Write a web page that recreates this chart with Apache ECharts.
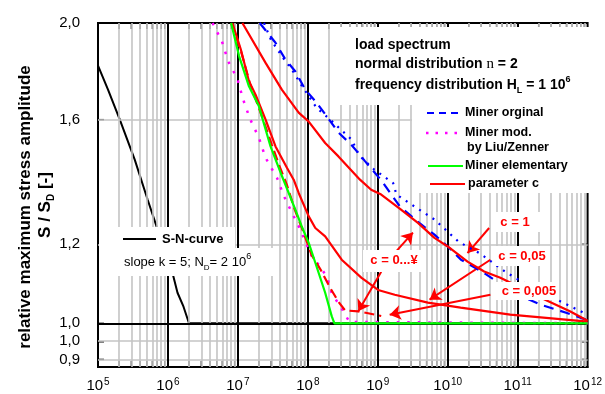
<!DOCTYPE html>
<html><head><meta charset="utf-8">
<script src="https://cdn.jsdelivr.net/npm/echarts@6/dist/echarts.min.js"></script>
<style>html,body{margin:0;padding:0;background:#fff}#c{width:605px;height:394px}</style>
</head><body><div id="c"></div>
<script>
const FONT = '"Liberation Sans", Arial, Helvetica, sans-serif';

// ---- data (N = cycles, S = S/S_D) ----
const snN = [1.0e5, 1.39e5, 2.05e5, 3.35e5, 5.13e5, 6.89e5, 1.16e6, 1.37e6, 1.67e6, 2.0e6, 1.0e12];
const snS = [1.813, 1.715, 1.600, 1.459, 1.330, 1.250, 1.124, 1.073, 1.039, 1.000, 1.000];

const minerOrgN = [2.05e7, 3.45e7, 4.79e7, 6.64e7, 9.2e7, 1.28e8, 1.97e8, 2.74e8, 4.19e8, 6.56e8, 1.12e9, 2.06e9, 3.96e9, 6.47e9, 1.0e10, 1.55e10, 3.32e10, 8.38e10, 2.11e11, 5.07e11, 1.0e12];
const minerOrgS = [2.000, 1.911, 1.838, 1.788, 1.715, 1.670, 1.604, 1.553, 1.510, 1.454, 1.391, 1.310, 1.260, 1.227, 1.194, 1.158, 1.123, 1.075, 1.044, 1.024, 1.007];

const minerOrgDotN = [2.36e7, 2.96e7, 4.38e7, 5.89e7, 8.17e7, 1.33e8, 2.09e8, 4.23e8, 5.44e8, 8.9e8, 1.66e9, 1.85e9, 3.37e9, 6.53e9, 1.43e10, 2.94e10, 6.67e10, 1.61e11, 4.06e11, 1.0e12];
const minerOrgDotS = [2.000, 1.925, 1.847, 1.797, 1.731, 1.645, 1.600, 1.528, 1.473, 1.426, 1.382, 1.346, 1.309, 1.270, 1.207, 1.174, 1.126, 1.085, 1.052, 1.020];

const minerModN = [4.34e6, 5.9e6, 7.26e6, 9.84e6, 1.19e7, 1.49e7, 2.0e7, 2.49e7, 3.64e7, 4.53e7, 5.64e7, 7.4e7, 1.14e8, 1.42e8, 1.87e8, 2.2e8, 3.22e8, 3.93e8, 1.0e12];
const minerModS = [2.000, 1.918, 1.831, 1.758, 1.676, 1.603, 1.534, 1.465, 1.398, 1.342, 1.300, 1.251, 1.167, 1.145, 1.114, 1.072, 1.028, 1.003, 1.000];

const minerElemN = [8.0e6, 1.04e7, 1.44e7, 2.0e7, 2.93e7, 4.28e7, 6.63e7, 8.16e7, 1.03e8, 1.28e8, 1.77e8, 2.2e8, 2.4e8, 1.0e12];
const minerElemS = [2.000, 1.853, 1.728, 1.650, 1.504, 1.404, 1.300, 1.251, 1.204, 1.150, 1.073, 1.016, 1.000, 1.000];

const paramCUpperN = [1.16e7, 2.49e7, 4.25e7, 7.4e7, 1.03e8, 1.77e8, 2.74e8, 5.57e8, 8.05e8, 1.12e9, 2.15e9, 3.75e9, 6.47e9, 1.0e10, 1.92e10, 3.32e10, 5.66e10, 2.47e11, 5.58e11, 1.0e12];
const paramCUpperS = [2.000, 1.824, 1.715, 1.626, 1.593, 1.516, 1.470, 1.393, 1.361, 1.346, 1.300, 1.261, 1.218, 1.194, 1.153, 1.127, 1.111, 1.056, 1.028, 1.006];

const paramCMidN = [8.35e6, 1.10e7, 1.44e7, 1.79e7, 2.49e7, 3.45e7, 5.05e7, 6.28e7, 7.4e7, 1.03e8, 1.28e8, 1.77e8, 3.05e8, 5.81e8, 1.01e9, 1.75e9, 5.2e9, 1.53e10, 7.85e10, 1.0e12];
const paramCMidS = [2.000, 1.882, 1.748, 1.695, 1.600, 1.504, 1.431, 1.393, 1.351, 1.280, 1.246, 1.222, 1.158, 1.111, 1.080, 1.068, 1.049, 1.037, 1.020, 1.004];

const paramCLowN = [8.0e6, 1.11e7, 1.49e7, 1.94e7, 2.43e7, 3.06e7, 3.85e7, 5.0e7, 6.5e7, 8.4e7, 1.13e8, 1.52e8, 2.09e8, 2.74e8, 3.41e8, 5.27e8, 1.12e9];
const paramCLowS = [2.000, 1.873, 1.739, 1.653, 1.582, 1.510, 1.443, 1.377, 1.300, 1.241, 1.171, 1.132, 1.085, 1.051, 1.030, 1.028, 1.017];

// annotation arrows (data coordinates)
const arrowTailN = [1.82e9, 1.12e9, 3.91e10, 4.08e10, 4.08e10];
const arrowTailS = [1.180, 1.126, 1.246, 1.158, 1.068];
const arrowHeadN = [3.18e9, 5.27e8, 1.92e10, 5.5e9, 1.48e9];
const arrowHeadS = [1.233, 1.028, 1.176, 1.056, 1.020];

// axes / ticks
const xMin = 1e5, xMax = 1e12;
const yMin = 0.904, yMax = 2.0;
const xDecades = [1e5, 1e6, 1e7, 1e8, 1e9, 1e10, 1e11];
const xInnerDecades = [1e6, 1e7, 1e8, 1e9, 1e10, 1e11];
const minorMultipliers = [2, 3, 4, 5, 6, 7, 8, 9];
const yTickValues = [2.0, 1.6, 1.2, 1.0, 0.958, 0.92];
const yTickLabels = ['2,0', '1,6', '1,2', '1,0', '1,0', '0,9'];
const yGridGray = [1.6, 1.2, 0.958, 0.92];
const yGridBlack = [1.0];

const pairs = (n, s) => n.map((v, i) => [v, s[i]]);
const xMinor = [];
xDecades.forEach(d => minorMultipliers.forEach(m => xMinor.push(m * d)));
const xAllTicks = xMinor.concat(xInnerDecades);

const chart = echarts.init(document.getElementById('c'));

const gridMarkData = []
  .concat(xMinor.map(v => ({ xAxis: v, lineStyle: { color: '#c4c4c4', width: 1.6, type: 'solid' } })))
  .concat(yGridGray.map(v => ({ yAxis: v, lineStyle: { color: '#c4c4c4', width: 1.6, type: 'solid' } })))
  .concat(xInnerDecades.map(v => ({ xAxis: v, lineStyle: { color: '#000', width: 2, type: 'solid' } })))
  .concat(yGridBlack.map(v => ({ yAxis: v, lineStyle: { color: '#000', width: 2, type: 'solid' } })));

const lineBase = { type: 'line', symbol: 'none', showSymbol: false, animation: false, silent: true, clip: true };

const option = {
  animation: false,
  backgroundColor: '#fff',
  grid: { left: 98, right: 14, top: 23, bottom: 27, show: true, borderColor: '#000', borderWidth: 2, backgroundColor: '#fff' },
  xAxis: {
    type: 'log', logBase: 10, min: xMin, max: xMax,
    axisLine: { show: true, lineStyle: { color: '#000', width: 2 } },
    axisTick: { show: false }, splitLine: { show: false }, minorTick: { show: false }, minorSplitLine: { show: false },
    axisLabel: {
      margin: 10, showMinLabel: true, showMaxLabel: true,
      formatter: v => '{b|10}{s|' + Math.round(Math.log10(v)) + '}',
      rich: {
        b: { fontSize: 15, fontFamily: FONT, color: '#000', lineHeight: 18 },
        s: { fontSize: 10, fontFamily: FONT, color: '#000', verticalAlign: 'top', lineHeight: 18, padding: [0, 0, 0, 1] }
      }
    }
  },
  yAxis: {
    type: 'log', logBase: 10, min: yMin, max: yMax,
    axisLine: { show: true, lineStyle: { color: '#000', width: 2 } },
    axisTick: { show: false }, axisLabel: { show: false }, splitLine: { show: false }
  },
  series: [
    Object.assign({}, lineBase, {
      name: 'grid', data: [[xMin, 1]], z: 1, lineStyle: { opacity: 0 },
      markLine: { silent: true, animation: false, symbol: ['none', 'none'], label: { show: false }, data: gridMarkData }
    }),
    Object.assign({}, lineBase, {
      name: 'ylabels', data: [[xMin, 1]], z: 1, lineStyle: { opacity: 0 },
      markLine: {
        silent: true, animation: false, symbol: ['none', 'none'],
        lineStyle: { color: 'rgba(0,0,0,0)', width: 0 },
        label: { show: true, position: 'start', distance: 18, color: '#000', fontSize: 15, fontFamily: FONT },
        data: yTickValues.map((v, i) => ({ yAxis: v, label: { formatter: yTickLabels[i] } }))
      }
    }),
    {
      type: 'scatter', name: 'ticks', silent: true, animation: false, clip: false, z: 3,
      symbol: 'rect', itemStyle: { color: '#000' },
      data: []
        .concat(xAllTicks.map(v => ({ value: [v, yMax], symbolSize: [1.5, 6], symbolOffset: [0, 3] })))
        .concat(xAllTicks.map(v => ({ value: [v, yMin], symbolSize: [1.5, 6], symbolOffset: [0, -3] })))
        .concat(yTickValues.slice(1).map(v => ({ value: [xMax, v], symbolSize: [6, 1.5], symbolOffset: [-3, 0] })))
        .concat(yTickValues.slice(1).map(v => ({ value: [xMin, v], symbolSize: [6, 1.5], symbolOffset: [3, 0] })))
    },
    Object.assign({}, lineBase, { name: 'S-N-curve', z: 4, data: pairs(snN, snS), lineStyle: { color: '#000', width: 2 } }),
    Object.assign({}, lineBase, { name: 'Miner orginal', z: 5, data: pairs(minerOrgDotN, minerOrgDotS), lineStyle: { color: '#0000ff', width: 2.2, type: [2, 6] } }),
    Object.assign({}, lineBase, { name: 'Miner orginal', z: 5, data: pairs(minerOrgN, minerOrgS), lineStyle: { color: '#0000ff', width: 2.2, type: [10, 7] } }),
    Object.assign({}, lineBase, { name: 'Miner mod. by Liu/Zenner', z: 5, data: pairs(minerModN, minerModS), lineStyle: { color: '#ff00ff', width: 2.5, type: [2.5, 8] } }),
    Object.assign({}, lineBase, { name: 'parameter c', z: 6, data: pairs(paramCLowN, paramCLowS), lineStyle: { color: '#ff0000', width: 2.2, type: [10, 5] } }),
    Object.assign({}, lineBase, { name: 'Miner elementary', z: 7, data: pairs(minerElemN, minerElemS), lineStyle: { color: '#00ff00', width: 2.2 } }),
    Object.assign({}, lineBase, { name: 'parameter c', z: 6, data: pairs(paramCMidN, paramCMidS), lineStyle: { color: '#ff0000', width: 2.2 } }),
    Object.assign({}, lineBase, {
      name: 'parameter c', z: 6, data: pairs(paramCUpperN, paramCUpperS), itemStyle: { color: '#ff0000' }, lineStyle: { color: '#ff0000', width: 2.2 },
      markLine: {
        silent: true, animation: false, symbol: ['none', 'arrow'], symbolSize: 11,
        label: { show: false },
        itemStyle: { color: '#ff0000' },
        lineStyle: { color: '#ff0000', width: 2, type: 'solid', opacity: 1 },
        data: arrowTailN.map((n, i) => [{ coord: [n, arrowTailS[i]] }, { coord: [arrowHeadN[i], arrowHeadS[i]] }])
      }
    })
  ],
  graphic: { elements: [
    // y-axis title
    { type: 'text', x: 25, y: 207, rotation: Math.PI / 2, z: 20,
      style: { text: 'relative maximum stress amplitude', font: 'bold 17px ' + FONT, fill: '#000', align: 'center', verticalAlign: 'middle' } },
    { type: 'text', x: 45, y: 205, rotation: Math.PI / 2, z: 20,
      style: { text: '{b|S / S}{sub|D}{b| [-]}', align: 'center', verticalAlign: 'middle',
        rich: { b: { font: 'bold 17px ' + FONT, fill: '#000', lineHeight: 22 }, sub: { font: 'bold 10px ' + FONT, fill: '#000', verticalAlign: 'bottom', lineHeight: 20 } } } },

    // top text box
    { type: 'rect', z: 10, shape: { x: 333, y: 27, width: 257, height: 78 }, style: { fill: '#fff' } },
    { type: 'text', z: 11, x: 355, y: 45, style: { text: 'load spectrum', font: 'bold 14px ' + FONT, fill: '#000', verticalAlign: 'middle' } },
    { type: 'text', z: 11, x: 355, y: 64, style: { text: '{b|normal distribution }{n|n}{b| = 2}', verticalAlign: 'middle',
        rich: { b: { font: 'bold 14px ' + FONT, fill: '#000' }, n: { font: '15px "Liberation Serif", "Times New Roman", serif', fill: '#000' } } } },
    { type: 'text', z: 11, x: 355, y: 85, style: { text: '{b|frequency distribution H}{sub|L}{b| = 1 10}{sup|6}', verticalAlign: 'middle',
        rich: { b: { font: 'bold 14px ' + FONT, fill: '#000', lineHeight: 20 }, sub: { font: 'bold 9px ' + FONT, fill: '#000', verticalAlign: 'bottom', lineHeight: 20 }, sup: { font: 'bold 9px ' + FONT, fill: '#000', verticalAlign: 'top', lineHeight: 20 } } } },

    // legend box
    { type: 'rect', z: 10, shape: { x: 412, y: 104, width: 178, height: 89 }, style: { fill: '#fff' } },
    { type: 'line', z: 11, shape: { x1: 427, y1: 113, x2: 463, y2: 113 }, style: { stroke: '#0000ff', lineWidth: 2.2, lineDash: [7, 5] } },
    { type: 'text', z: 11, x: 465, y: 113, style: { text: 'Miner orginal', font: 'bold 12.5px ' + FONT, fill: '#000', verticalAlign: 'middle' } },
    { type: 'line', z: 11, shape: { x1: 426, y1: 133, x2: 458, y2: 133 }, style: { stroke: '#ff00ff', lineWidth: 2.5, lineDash: [2.5, 7] } },
    { type: 'text', z: 11, x: 465, y: 133, style: { text: 'Miner mod.', font: 'bold 12.5px ' + FONT, fill: '#000', verticalAlign: 'middle' } },
    { type: 'text', z: 11, x: 467, y: 148, style: { text: 'by Liu/Zenner', font: 'bold 12.5px ' + FONT, fill: '#000', verticalAlign: 'middle' } },
    { type: 'line', z: 11, shape: { x1: 428, y1: 166, x2: 463, y2: 166 }, style: { stroke: '#00ff00', lineWidth: 2.2 } },
    { type: 'text', z: 11, x: 465, y: 166, style: { text: 'Miner elementary', font: 'bold 12.5px ' + FONT, fill: '#000', verticalAlign: 'middle' } },
    { type: 'line', z: 11, shape: { x1: 430, y1: 184, x2: 465, y2: 184 }, style: { stroke: '#ff0000', lineWidth: 2.2 } },
    { type: 'text', z: 11, x: 468, y: 184, style: { text: 'parameter c', font: 'bold 12.5px ' + FONT, fill: '#000', verticalAlign: 'middle' } },

    // S-N legend box
    { type: 'rect', z: 10, shape: { x: 99, y: 227, width: 136, height: 21 }, style: { fill: '#fff' } },
    { type: 'rect', z: 10, shape: { x: 99, y: 248, width: 178, height: 28 }, style: { fill: '#fff' } },
    { type: 'line', z: 11, shape: { x1: 123, y1: 239, x2: 156, y2: 239 }, style: { stroke: '#000', lineWidth: 2 } },
    { type: 'text', z: 11, x: 162, y: 239, style: { text: 'S-N-curve', font: 'bold 13px ' + FONT, fill: '#000', verticalAlign: 'middle' } },
    { type: 'text', z: 11, x: 124, y: 262, style: { text: '{b|slope k = 5; N}{sub|D}{b|= 2 10}{sup|6}', verticalAlign: 'middle',
        rich: { b: { font: '13px ' + FONT, fill: '#000', lineHeight: 20 }, sub: { font: '8px ' + FONT, fill: '#000', verticalAlign: 'bottom', lineHeight: 20 }, sup: { font: '9px ' + FONT, fill: '#000', verticalAlign: 'top', lineHeight: 20 } } } },

    // annotation boxes
    { type: 'rect', z: 10, shape: { x: 363, y: 250, width: 60, height: 22 }, style: { fill: '#fff' } },
    { type: 'text', z: 11, x: 394, y: 260, style: { text: 'c = 0...¥', font: 'bold 13px ' + FONT, fill: '#ff0000', align: 'center', verticalAlign: 'middle' } },
    { type: 'rect', z: 10, shape: { x: 495, y: 212, width: 45, height: 20 }, style: { fill: '#fff' } },
    { type: 'text', z: 11, x: 515, y: 222, style: { text: 'c = 1', font: 'bold 13px ' + FONT, fill: '#ff0000', align: 'center', verticalAlign: 'middle' } },
    { type: 'rect', z: 10, shape: { x: 493, y: 246, width: 56, height: 20 }, style: { fill: '#fff' } },
    { type: 'text', z: 11, x: 522, y: 256, style: { text: 'c = 0,05', font: 'bold 13px ' + FONT, fill: '#ff0000', align: 'center', verticalAlign: 'middle' } },
    { type: 'rect', z: 10, shape: { x: 493, y: 282, width: 65, height: 18 }, style: { fill: '#fff' } },
    { type: 'text', z: 11, x: 529, y: 291, style: { text: 'c = 0,005', font: 'bold 13px ' + FONT, fill: '#ff0000', align: 'center', verticalAlign: 'middle' } }
  ] }
};
chart.setOption(option);
</script>
</body></html>
